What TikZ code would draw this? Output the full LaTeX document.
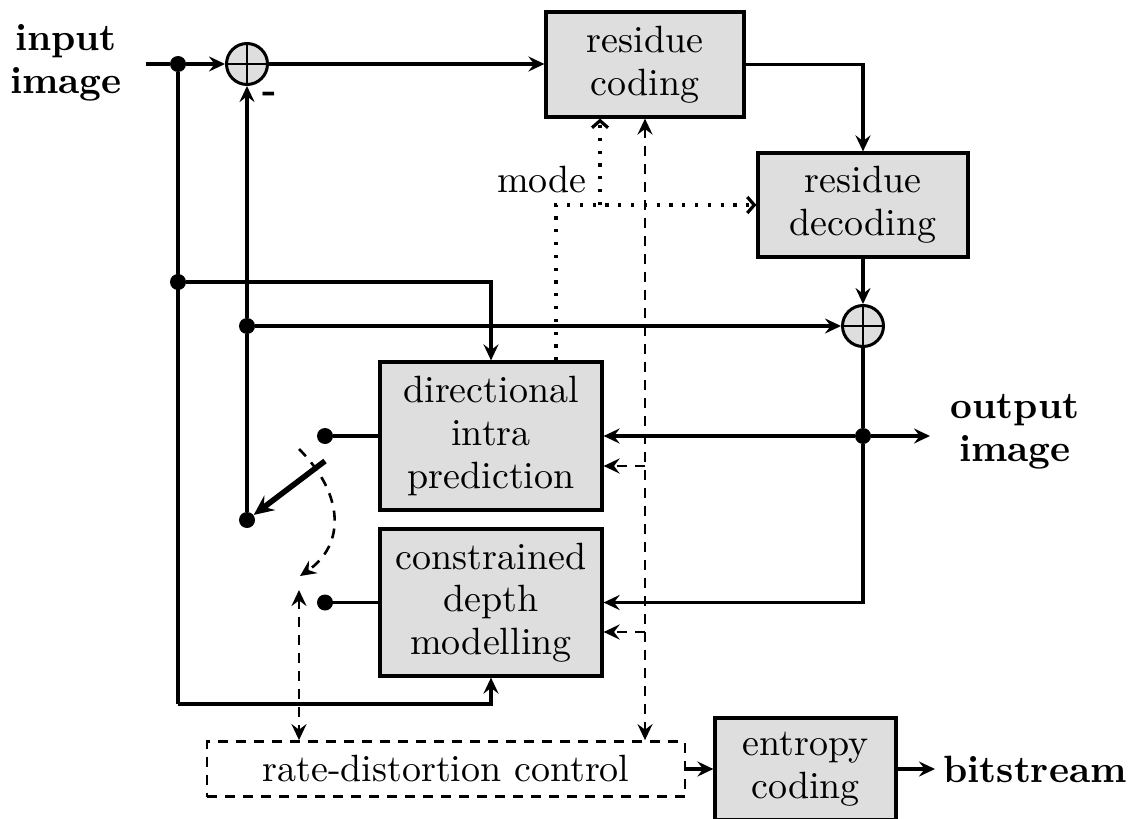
\documentclass[tikz,border=0pt]{standalone}
\usepackage{fontspec}
\setmainfont{lmroman10-regular.otf}[BoldFont=lmroman10-bold.otf]
\usetikzlibrary{arrows.meta}
\definecolor{boxgray}{RGB}{222,222,222}
\begin{document}
\begin{tikzpicture}[x=0.5pt,y=-0.5pt,
  >={Stealth[length=8pt,width=7.5pt,inset=2.8pt]},
  every node/.style={font=\fontsize{19}{21.3}\selectfont},
  box/.style={draw,line width=1.6pt,fill=boxgray,inner sep=0pt,align=center},
  conn/.style={line width=1.6pt},
  dsh/.style={line width=1.3pt,dash pattern=on 5pt off 4pt},
  dtt/.style={line width=1.6pt,dash pattern=on 1.6pt off 4.8pt,-{Straight Barb[length=3.5pt,width=8pt]}},
  dotnode/.style={circle,fill,inner sep=0pt,minimum size=8pt},
  adder/.style={circle,draw,line width=1.5pt,fill=boxgray,minimum size=20.5pt,inner sep=0pt,
    path picture={\draw[line width=1.3pt] (path picture bounding box.north) -- (path picture bounding box.south)
      (path picture bounding box.west) -- (path picture bounding box.east);}},
  lbl/.style={font=\fontsize{19}{21.3}\selectfont\bfseries,align=center}
]
\useasboundingbox (0,0) rectangle (1128,818);

% boxes
\node[box,minimum width=99pt,minimum height=52.5pt] (rc) at (645,64.5) {residue\\coding};
\node[box,minimum width=105pt,minimum height=52pt] (rd) at (863,205) {residue\\decoding};
\node[box,minimum width=111pt,minimum height=74pt] (dip) at (491,436) {directional\\intra\\prediction};
\node[box,minimum width=111pt,minimum height=73.5pt] (cdm) at (491,602.5) {constrained\\depth\\modelling};
\node[draw,dsh,line width=1.4pt,inner sep=0pt,minimum width=239pt,minimum height=27.5pt] (rdc) at (446,769) {rate-distortion control};
\node[box,minimum width=90.5pt,minimum height=51pt] (ec) at (805.5,769) {entropy\\coding};

% adders
\node[adder] (a1) at (247,64) {};
\node[adder] (a2) at (863,326) {};

% labels
\node[lbl] (inp) at (66,63) {input\\image};
\node[lbl] (outp) at (1015,432) {output\\image};
\node[lbl] (bs) at (1035,769) {bitstream};
\node (mode) at (542,180) {mode};
\node (minus) at (270,97) {\bfseries -};

% dots
\node[dotnode] (j1) at (178,64) {};
\node[dotnode] (j2) at (178,282) {};
\node[dotnode] (j3) at (247,326) {};
\node[dotnode] (sw) at (247,520) {};
\node[dotnode] (s1) at (325,436) {};
\node[dotnode] (s2) at (325,602.5) {};
\node[dotnode] (jo) at (863,436) {};

% coordinates
\coordinate (inL) at (146,64);
\coordinate (outR) at (930,436);
\coordinate (bl) at (178,704);
\coordinate (swt) at (325,461);
\coordinate (arcS) at (299,449);
\coordinate (arcE) at (300,576);
\coordinate (swc) at (299,590);
\coordinate (b1) at (645,466);
\coordinate (b2) at (645,632);
\coordinate (mx) at (556,205);
\coordinate (my) at (600,205);
\coordinate (bsL) at (935,769);

% solid connectors
\draw[conn] (inL) -- (j1);
\draw[conn,->] (j1) -- (a1);
\draw[conn,->] (a1) -- (a1 -| rc.west);
\draw[conn,->] (rc.east) -| (rd.north);
\draw[conn,->] (rd.south) -- (a2.north);
\draw[conn] (a2) -- (jo);
\draw[conn,->] (jo) -- (outR);
\draw[conn,->] (jo) -- (dip.east);
\draw[conn,->] (jo) |- (cdm.east);
\draw[conn] (j1) -- (bl);
\draw[conn,->] (bl) -| (cdm.south);
\draw[conn,->] (j2) -| (dip.north);
\draw[conn] (sw) -- (j3);
\draw[conn,->] (j3) -- (a1);
\draw[conn,->] (j3) -- (a2);
\draw[conn] (s1) -- (dip.west);
\draw[conn] (s2) -- (cdm.west);
\draw[line width=2.8pt,-{Stealth[length=10pt,width=9pt,inset=3.5pt]}] (swt) -- (sw);
\draw[conn,->] (rdc.east) -- (ec.west);
\draw[conn,->] (ec.east) -- (bsL);

% dashed connectors
\draw[dsh,->] (arcS) .. controls (345,495) and (345,545) .. (arcE);
\draw[dsh,<->] (swc) -- (swc |- rdc.north);
\draw[dsh,<->] (rc.south) -- (rc.south |- rdc.north);
\draw[dsh,->] (b1) -- (b1 -| dip.east);
\draw[dsh,->] (b2) -- (b2 -| cdm.east);

% dotted connectors
\draw[dtt] (mx |- dip.north) |- (rd.west);
\draw[dtt] (my) -- (my |- rc.south);
\end{tikzpicture}
\end{document}
